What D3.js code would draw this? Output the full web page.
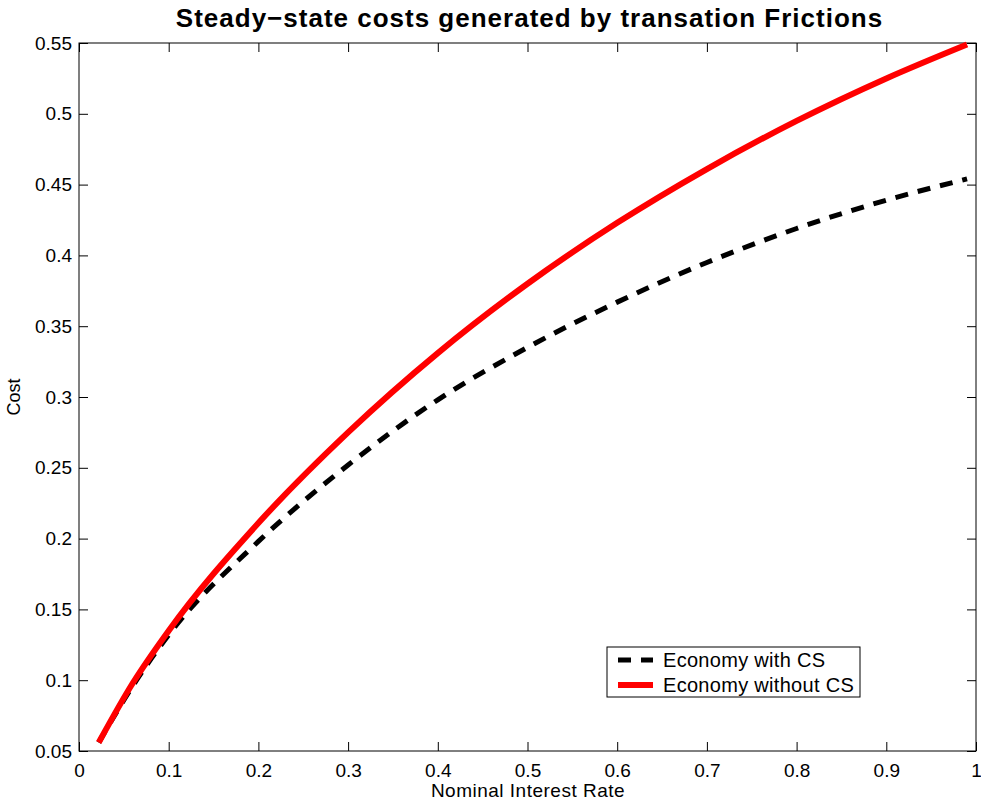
<!DOCTYPE html>
<html>
<head>
<meta charset="utf-8">
<script src="https://cdn.jsdelivr.net/npm/d3@7/dist/d3.min.js"></script>
<style>
  html, body { margin: 0; padding: 0; background: #fff; }
  svg { display: block; font-family: "Liberation Sans", Arial, Helvetica, sans-serif; }
</style>
</head>
<body>
<svg id="chart" width="981" height="801"></svg>
<script>
// Nominal interest rate grid
const rates = [0.022, 0.06, 0.1, 0.2, 0.3, 0.4, 0.5, 0.6, 0.7, 0.8, 0.9, 0.99];
// Steady-state cost, economy with CS
const costWithCS = [0.056, 0.096, 0.132, 0.198, 0.252, 0.298, 0.335, 0.367, 0.395, 0.419, 0.439, 0.454];
// Steady-state cost, economy without CS
const costWithoutCS = [0.056, 0.098, 0.135, 0.211, 0.275, 0.331, 0.380, 0.423, 0.461, 0.495, 0.525, 0.549];
const xTicks = [0, 0.1, 0.2, 0.3, 0.4, 0.5, 0.6, 0.7, 0.8, 0.9, 1];
const yTicks = [0.05, 0.1, 0.15, 0.2, 0.25, 0.3, 0.35, 0.4, 0.45, 0.5, 0.55];
const seriesNames = ["Economy with CS", "Economy without CS"];

const svg = d3.select("#chart");
const plotLeft = 79, plotRight = 976, plotTop = 43, plotBottom = 751;

const x = d3.scaleLinear().domain([0, 1]).range([plotLeft, plotRight]);
const y = d3.scaleLinear().domain([0.05, 0.55]).range([plotBottom, plotTop]);

const tickLen = 9;
const fmt = d => String(+d.toFixed(2));

// Plot frame
svg.append("rect")
  .attr("x", plotLeft).attr("y", plotTop)
  .attr("width", plotRight - plotLeft).attr("height", plotBottom - plotTop)
  .attr("fill", "none").attr("stroke", "#000").attr("stroke-width", 1);

// Axes with inward ticks on all sides
const axB = svg.append("g").attr("transform", `translate(0,${plotBottom})`)
  .call(d3.axisBottom(x).tickValues(xTicks).tickSize(-tickLen).tickPadding(13).tickFormat(fmt));
const axT = svg.append("g").attr("transform", `translate(0,${plotTop})`)
  .call(d3.axisTop(x).tickValues(xTicks).tickSize(-tickLen).tickFormat(""));
const axL = svg.append("g").attr("transform", `translate(${plotLeft},0)`)
  .call(d3.axisLeft(y).tickValues(yTicks).tickSize(-tickLen).tickPadding(7).tickFormat(fmt));
const axR = svg.append("g").attr("transform", `translate(${plotRight},0)`)
  .call(d3.axisRight(y).tickValues(yTicks).tickSize(-tickLen).tickFormat(""));

[axB, axT, axL, axR].forEach(g => {
  g.select(".domain").remove();
  g.selectAll(".tick line").attr("stroke", "#000").attr("stroke-width", 1);
  g.selectAll(".tick text").attr("fill", "#000").attr("font-size", 19)
    .attr("font-family", "Liberation Sans, Arial, sans-serif");
});

// Curves
const line = d3.line().curve(d3.curveMonotoneX);
const ptsWith = rates.map((r, i) => [x(r), y(costWithCS[i])]);
const ptsWithout = rates.map((r, i) => [x(r), y(costWithoutCS[i])]);

svg.append("path").attr("d", line(ptsWith))
  .attr("fill", "none").attr("stroke", "#000").attr("stroke-width", 5)
  .attr("stroke-dasharray", "13,10");
svg.append("path").attr("d", line(ptsWithout))
  .attr("fill", "none").attr("stroke", "#ff0000").attr("stroke-width", 6);

// Title and axis labels
svg.append("text").attr("x", (plotLeft + plotRight) / 2 + 2).attr("y", 27)
  .attr("text-anchor", "middle").attr("font-size", 26).attr("font-weight", "bold")
  .attr("letter-spacing", 1)
  .text("Steady\u2212state costs generated by transation Frictions");
svg.append("text").attr("x", 528).attr("y", 797)
  .attr("text-anchor", "middle").attr("font-size", 19).attr("letter-spacing", 0.5)
  .text("Nominal Interest Rate");
svg.append("text").attr("transform", `translate(20,${(plotTop + plotBottom) / 2}) rotate(-90)`)
  .attr("text-anchor", "middle").attr("font-size", 18)
  .text("Cost");

// Legend
const lg = svg.append("g").attr("transform", "translate(607,647)");
lg.append("rect").attr("width", 253).attr("height", 50)
  .attr("fill", "#fff").attr("stroke", "#000").attr("stroke-width", 1);
const legendStyles = [
  { color: "#000", width: 5, dash: "13,10" },
  { color: "#ff0000", width: 6, dash: null }
];
seriesNames.forEach((name, i) => {
  const yy = 13 + i * 25;
  lg.append("line").attr("x1", 11).attr("x2", 46).attr("y1", yy).attr("y2", yy)
    .attr("stroke", legendStyles[i].color).attr("stroke-width", legendStyles[i].width)
    .attr("stroke-dasharray", legendStyles[i].dash);
  lg.append("text").attr("x", 56).attr("y", yy).attr("dy", "0.35em")
    .attr("font-size", 20).attr("letter-spacing", 0.3).text(name);
});
</script>
</body>
</html>
